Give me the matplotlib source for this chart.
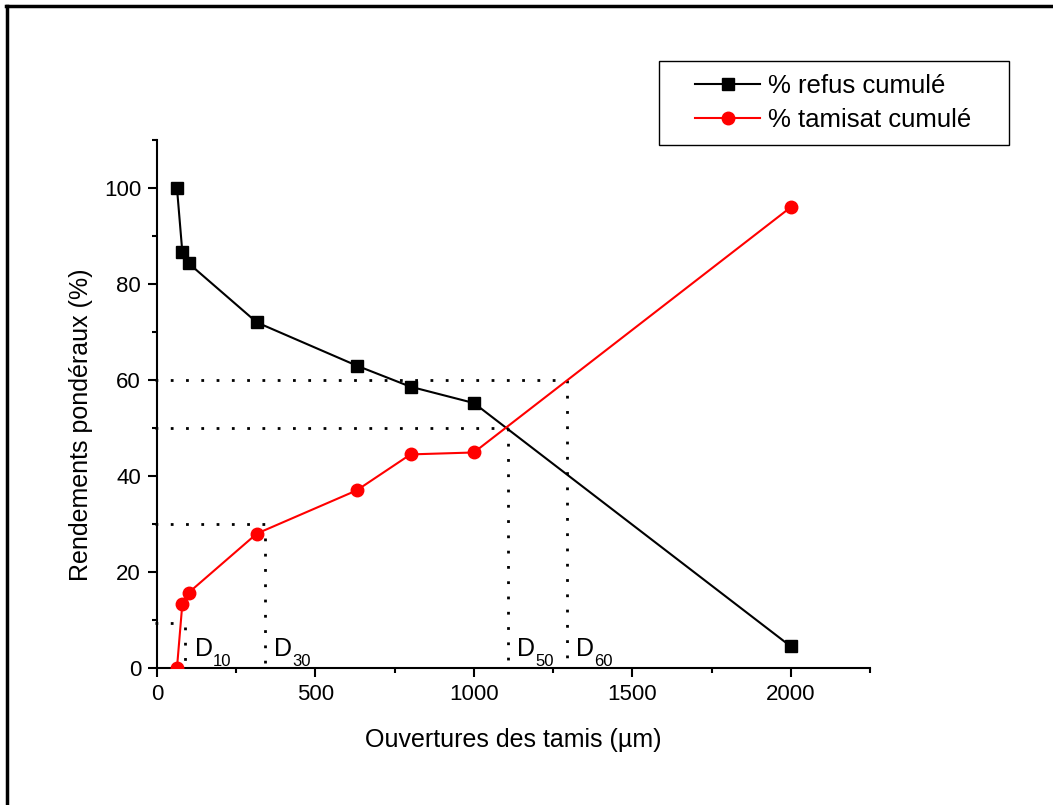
import matplotlib
matplotlib.use("Agg")
import matplotlib.pyplot as plt
from matplotlib.ticker import MultipleLocator
from matplotlib.lines import Line2D
from matplotlib.patches import Rectangle

plt.rcParams['font.family'] = ['Liberation Sans', 'DejaVu Sans']

# Data
sieves = [63, 80, 100, 315, 630, 800, 1000, 2000]
refus = [100, 86.6, 84.3, 72.0, 63.0, 58.6, 55.2, 4.5]
tamisat = [0, 13.4, 15.7, 28.0, 37.0, 44.5, 44.9, 96.0]

d_labels = ['10', '30', '50', '60']
d_levels = [9.3, 30, 50, 60]
d_sizes = [88, 340, 1107, 1295]

fig = plt.figure(figsize=(10.53, 8.05), dpi=100)
ax = fig.add_axes([157/1053, 1-668/805, (870-157)/1053, (668-140)/805])

ax.plot(sieves, refus, color='black', lw=1.5, marker='s', ms=8, label='% refus cumulé', zorder=3)
ax.plot(sieves, tamisat, color='red', lw=1.5, marker='o', ms=9, label='% tamisat cumulé', zorder=3)

dot = dict(color='black', lw=2, linestyle=(0, (1, 4.5)), dash_capstyle='butt', zorder=2)
# horizontal dotted lines
for lvl, d in zip(d_levels, d_sizes):
    ax.plot([-5, d], [lvl, lvl], clip_on=False, **dot)
# vertical dotted lines
vtops = [8.5, 27, 50, 60]
for top, d in zip(vtops, d_sizes):
    ax.plot([d, d], [top, 0.5], **dot)

d_text_x = [120, 370, 1136, 1322]
for lab, tx in zip(d_labels, d_text_x):
    ax.annotate('D', (tx, 2.5), fontsize=18, ha='left', va='baseline')
    ax.annotate(lab, (tx, 2.5), xytext=(13, -7.2), textcoords='offset points',
                fontsize=12, ha='left', va='baseline')

ax.set_xlim(0, 2250)
ax.set_ylim(0, 110)
ax.xaxis.set_major_locator(MultipleLocator(500))
ax.xaxis.set_minor_locator(MultipleLocator(250))
ax.yaxis.set_minor_locator(MultipleLocator(10))
ax.set_yticks([0, 20, 40, 60, 80, 100])

ax.spines['top'].set_visible(False)
ax.spines['right'].set_visible(False)
for s in ['left', 'bottom']:
    ax.spines[s].set_linewidth(1.5)
ax.tick_params(which='major', length=6.5, width=1.5, labelsize=16, pad=5, direction='out')
ax.tick_params(which='minor', length=3.5, width=1.5, direction='out')

ax.set_xlabel('Ouvertures des tamis (µm)', fontsize=18, labelpad=16.5)
ax.set_ylabel('Rendements pondéraux (%)', fontsize=18)
ax.yaxis.set_label_coords(-0.0898, 0.46)

# legend frame drawn explicitly
fig.add_artist(Rectangle((659/1053, 1-145/805), 350/1053, 84/805, transform=fig.transFigure,
                         fill=False, edgecolor='black', lw=1.0))
leg = fig.legend(loc='upper left', bbox_to_anchor=(695/1053, 1-74/805), fontsize=18.5,
                 frameon=False, handlelength=2.53, borderpad=0, labelspacing=0.4,
                 handletextpad=0.3, borderaxespad=0)

# figure border (left & top)
fig.add_artist(Line2D([7/1053, 7/1053], [0, 1-6/805], color='black', lw=2.5, transform=fig.transFigure))
fig.add_artist(Line2D([6/1053, 1], [1-6/805, 1-6/805], color='black', lw=2.5, transform=fig.transFigure))

fig.savefig('out.png', dpi=100)
